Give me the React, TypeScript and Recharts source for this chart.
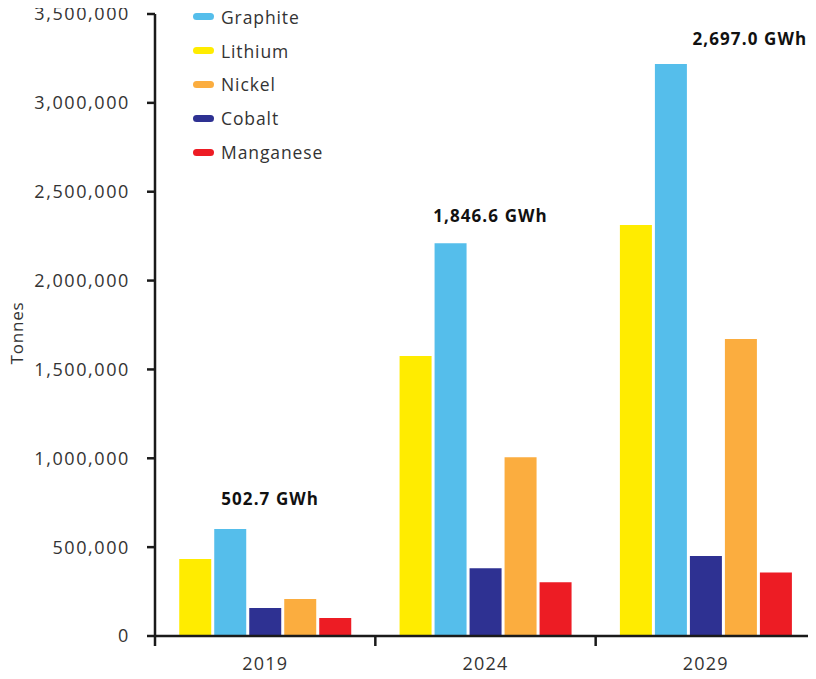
import React from 'react';
import { BarChart, Bar, XAxis, YAxis, ReferenceDot } from 'recharts';

const years = ['2019', '2024', '2029'];
const lithium = [433000, 1576000, 2313000];
const graphite = [602000, 2210000, 3219000];
const cobalt = [158000, 381000, 450000];
const nickel = [208000, 1006000, 1671000];
const manganese = [101000, 302000, 358000];
const capacityLabels = ['502.7 GWh', '1,846.6 GWh', '2,697.0 GWh'];
const yTicks = [0, 500000, 1000000, 1500000, 2000000, 2500000, 3000000, 3500000];

const seriesOrder = [
  { key: 'Lithium', color: '#FFEC00' },
  { key: 'Graphite', color: '#55BEEB' },
  { key: 'Cobalt', color: '#2E3192' },
  { key: 'Nickel', color: '#FBAD3F' },
  { key: 'Manganese', color: '#ED1C24' },
];
const legendOrder = ['Graphite', 'Lithium', 'Nickel', 'Cobalt', 'Manganese'];

const data = years.map((y, i) => ({
  year: y,
  Lithium: lithium[i],
  Graphite: graphite[i],
  Cobalt: cobalt[i],
  Nickel: nickel[i],
  Manganese: manganese[i],
}));

const FONT = "'Open Sans', sans-serif";
const AXIS = '#1a1a1a';

const LegendBox = () => (
  <div style={{ position: 'absolute', top: -8, left: 185, fontFamily: FONT }}>
    {legendOrder.map((name) => {
      const c = seriesOrder.find((s) => s.key === name)!.color;
      return (
        <div key={name} style={{ display: 'flex', alignItems: 'center', height: 33.8 }}>
          <span style={{ display: 'inline-block', width: 21, height: 7, borderRadius: 4, background: c, marginRight: 7 }} />
          <span style={{ fontSize: 17.5, color: '#333', letterSpacing: 0.9 }}>{name}</span>
        </div>
      );
    })}
  </div>
);

const CatTick = (props: any) => {
  const { x, y, payload, index, visibleTicksCount } = props;
  const half = payload?.offset ?? 0;
  const isLast = index === (visibleTicksCount ?? years.length) - 1;
  return (
    <g>
      <line x1={x - half} x2={x - half} y1={y - 21} y2={y - 11} stroke={AXIS} strokeWidth={2.5} />
      {isLast && <line x1={x + half} x2={x + half} y1={y - 21} y2={y - 11} stroke={AXIS} strokeWidth={2.5} />}
      <text
        x={x}
        y={y}
        dy="0.71em"
        textAnchor="middle"
        style={{ fill: '#333', fontSize: 18, fontFamily: FONT, letterSpacing: 1.2 }}
      >
        {payload.value}
      </text>
    </g>
  );
};

const YLabel = (props: any) => {
  const vb = props.viewBox || {};
  const x = (vb.x ?? 0) + 10;
  const y = (vb.y ?? 0) + (vb.height ?? 0) / 2 + 8;
  return (
    <text
      x={x}
      y={y}
      transform={`rotate(-90, ${x}, ${y})`}
      textAnchor="middle"
      dominantBaseline="middle"
      style={{ fill: '#333', fontSize: 17, fontFamily: FONT, letterSpacing: 0.8 }}
    >
      Tonnes
    </text>
  );
};

export default function App() {
  return (
    <div style={{ width: 808, height: 671, position: 'relative' }}>
      <BarChart
        width={808}
        height={671}
        data={data}
        margin={{ top: 6, right: 0, left: 0, bottom: 0 }}
        barCategoryGap="11%"
        barGap={3}
      >
        <XAxis
          dataKey="year"
          height={43}
          axisLine={{ stroke: AXIS, strokeWidth: 2.5 }}
          tickLine={false}
          tickSize={8}
          tickMargin={13}
          tick={<CatTick />}
        />
        <YAxis
          width={147}
          domain={[0, 3500000]}
          ticks={yTicks}
          interval={0}
          tickFormatter={(v: number) => v.toLocaleString('en-US')}
          axisLine={{ stroke: AXIS, strokeWidth: 2.5 }}
          tickLine={{ stroke: AXIS, strokeWidth: 2.5 }}
          tickSize={8}
          tickMargin={17}
          tick={{ fill: '#333', fontSize: 18, fontFamily: FONT, letterSpacing: 1.6 }}
          label={<YLabel />}
        />
        {seriesOrder.map((s) => (
          <Bar key={s.key} dataKey={s.key} fill={s.color} isAnimationActive={false} />
        ))}
        {years.map((y, i) => (
          <ReferenceDot
            key={y}
            x={y}
            y={Math.max(lithium[i], graphite[i], cobalt[i], nickel[i], manganese[i])}
            r={0}
            fill="none"
            stroke="none"
            label={(props: any) => {
              const vb = props.viewBox || {};
              const cx = (vb.x ?? 0) + (vb.width ?? 0) / 2;
              const cy = vb.y ?? 0;
              const last = i === years.length - 1;
              const dx = last ? 44 : 5;
              const dy = last ? -23 : i === 0 ? -29 : -26;
              return (
                <text
                  x={cx + dx}
                  y={cy + dy}
                  textAnchor="middle"
                  dominantBaseline="middle"
                  style={{ fontFamily: FONT, fontWeight: 700, fontSize: 17, fill: '#111', letterSpacing: 1.1 }}
                >
                  {capacityLabels[i]}
                </text>
              );
            }}
          />
        ))}
      </BarChart>
      <LegendBox />
    </div>
  );
}
